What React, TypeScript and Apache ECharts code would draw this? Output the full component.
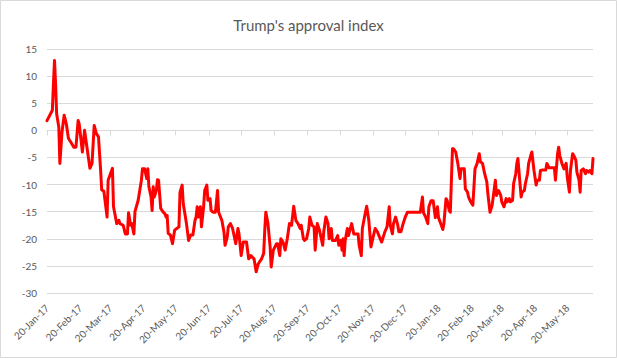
import React, { useEffect, useRef } from "react";
import * as echarts from "echarts";

// Days since 20-Jan-2017 for each poll reading
const pollDays = [
  0, 5, 6, 7, 8, 9, 11, 12, 14, 16, 18, 20, 22, 25, 27, 29, 30, 33, 35, 37,
  40, 42, 44, 46, 48, 50, 51, 53, 56, 57, 61, 62, 65, 67, 68, 71, 73, 75, 76, 78,
  79, 81, 82, 85, 88, 89, 91, 93, 94, 95, 97, 98, 99, 100, 102, 103, 104, 106, 108, 110,
  111, 112, 113, 115, 117, 119, 121, 123, 124, 126, 127, 130, 132, 134, 136, 138, 139, 140, 141, 143,
  144, 146, 147, 149, 150, 152, 153, 155, 157, 159, 160, 163, 165, 166, 168, 169, 171, 173, 176, 178,
  179, 181, 183, 186, 188, 190, 193, 195, 197, 200, 202, 203, 204, 206, 208, 209, 211, 214, 215, 217,
  218, 220, 222, 224, 226, 228, 230, 232, 234, 236, 237, 239, 240, 242, 244, 245, 247, 249, 250, 252,
  254, 257, 258, 260, 262, 263, 265, 266, 269, 271, 272, 274, 275, 276, 277, 278, 280, 281, 284, 286,
  288, 290, 291, 293, 294, 296, 298, 300, 302, 304, 306, 308, 310, 312, 315, 317, 319, 320, 322, 323,
  325, 327, 328, 330, 332, 334, 336, 340, 345, 348, 350, 351, 353, 355, 356, 358, 360, 362, 364, 365,
  367, 369, 370, 372, 373, 375, 376, 378, 379, 381, 383, 385, 386, 389, 390, 392, 393, 395, 397, 399,
  401, 403, 404, 406, 408, 410, 411, 413, 415, 416, 418, 419, 421, 423, 424, 426, 428, 429, 431, 432,
  434, 435, 437, 438, 439, 442, 443, 445, 446, 448, 449, 451, 452, 454, 456, 457, 459, 460, 462, 463,
  465, 466, 468, 470, 473, 474, 476, 477, 478, 480, 482, 484, 485, 487, 488, 490, 491, 493, 494, 496,
  497, 498, 500, 502, 503, 505, 506, 508, 509,
];

// Approval index readings
const approvalIndex = [
  1.8, 3.7, 8.6, 12.9, 8.6, 3, 0.6, -6.1, -0.3, 2.8, 1.2, -1.5, -2.1, -3.1, -3.1, 1.8, 1.2, -4, 0, -2.8,
  -7, -6.1, 0.9, -0.6, -1.2, -7.4, -11, -11.2, -16, -9.2, -7, -14.1, -17.2, -16.6, -17.2, -17.5, -19.1, -19.1, -15.2, -17.5,
  -17.2, -19.1, -15, -12.9, -9.2, -7.1, -7.1, -8.9, -7.1, -10.4, -12.3, -14.8, -10.4, -12.3, -11, -9.1, -9.2, -14.4, -15, -15.4,
  -16, -15.7, -19, -19.3, -20.9, -18.4, -18.1, -17.8, -11.4, -10.1, -13.5, -17.2, -20.3, -19.3, -19.3, -16.6, -16, -14.1, -16, -14.1,
  -17.8, -14.1, -11.1, -10.1, -12.9, -12.6, -14.8, -15.1, -15.1, -11.1, -15.1, -16.6, -18.8, -21.2, -19.7, -17.8, -17.2, -18.1, -20.9, -18.1,
  -19.1, -23.1, -20.6, -20.6, -23.7, -23.1, -23.7, -26.1, -24.6, -23.7, -22.7, -18.4, -15.1, -17.2, -21.5, -25.2, -22.1, -20.9, -20.9, -23.1,
  -20, -20.6, -22.1, -20, -17.2, -17.5, -14, -16.6, -17.2, -18.1, -17.5, -20, -20.3, -20, -18.1, -16, -17.5, -17.8, -22.1, -17.2,
  -18.4, -21.2, -18.7, -16, -17.2, -20, -18.1, -20.3, -20.3, -19.4, -21.2, -20.3, -22.1, -20, -23.1, -20.3, -18.1, -19.4, -17.2, -19.1,
  -19.1, -19.1, -21.2, -23.1, -18.1, -16, -14, -16.6, -21.5, -19.7, -18.1, -18.7, -19.7, -20.6, -18.7, -17.8, -14.1, -17.5, -19.1, -17.2,
  -16, -17.5, -18.7, -18.7, -17.2, -16, -15.1, -15.1, -15.1, -15.1, -12.3, -15.2, -16, -17.2, -14.1, -13, -13, -16.1, -14.1, -16.1,
  -17.2, -18.3, -17.2, -12.6, -12.9, -14.8, -15.1, -3.4, -3.4, -4, -6.1, -8.9, -7.1, -7.1, -10.8, -11.4, -12.3, -13.2, -13.8, -7.1,
  -6.1, -4.3, -5.8, -6.1, -8, -9.5, -11.7, -15.1, -13.8, -12.3, -9.2, -12, -11.1, -12, -13.2, -14.1, -12.6, -13.2, -12.6, -13.2,
  -12.9, -9.8, -8, -6.1, -5.2, -12.3, -11.4, -11.1, -9.8, -8, -6.1, -4.6, -4, -7.4, -10.1, -9.2, -9.2, -7.4, -7.3, -7.3,
  -7.3, -6.1, -6.9, -6.9, -6.9, -9.2, -4.3, -3.1, -4.6, -6.1, -7.1, -6.1, -8.6, -11.4, -7.4, -4.3, -4.6, -5.5, -7.7, -9.2,
  -11.4, -7.4, -7.1, -8, -7.4, -7.7, -7.4, -8, -5.2,
];

// Month ticks (the 20th of each month) as days since 20-Jan-2017
const tickDays = [0, 31, 59, 90, 120, 151, 181, 212, 243, 273, 304, 334, 365, 396, 424, 455, 485];
const tickLabels = [
  "20-Jan-17", "20-Feb-17", "20-Mar-17", "20-Apr-17", "20-May-17", "20-Jun-17",
  "20-Jul-17", "20-Aug-17", "20-Sep-17", "20-Oct-17", "20-Nov-17", "20-Dec-17",
  "20-Jan-18", "20-Feb-18", "20-Mar-18", "20-Apr-18", "20-May-18",
];

const yTicks = { min: -30, max: 15, step: 5 };
const chartTitle = "Trump's approval index";

export default function App() {
  const ref = useRef<HTMLDivElement>(null);

  useEffect(() => {
    if (!ref.current) return;
    const chart = echarts.init(ref.current, undefined, { renderer: "svg" });
    const font = "Lato, 'Liberation Sans', sans-serif";
    const labelFor = (v: number) => {
      const i = tickDays.indexOf(Math.round(v));
      return i >= 0 ? tickLabels[i] : "";
    };
    chart.setOption({
      animation: false,
      backgroundColor: "#ffffff",
      textStyle: { fontFamily: font },
      title: {
        text: chartTitle,
        left: "center",
        top: 12,
        textStyle: { fontFamily: font, fontSize: 15, fontWeight: "normal", color: "#595959" },
      },
      graphic: [
        {
          type: "rect",
          shape: { x: 0.5, y: 0.5, width: 616, height: 357 },
          style: { fill: "none", stroke: "#d9d9d9", lineWidth: 1 },
          silent: true,
        },
      ],
      grid: { left: 47, right: 24, top: 49, bottom: 65, containLabel: false },
      xAxis: [
        {
          type: "value",
          min: 0,
          max: pollDays[pollDays.length - 1],
          position: "bottom",
          axisLine: { show: false, onZero: false },
          axisTick: { show: false },
          splitLine: { show: false },
          axisLabel: {
            customValues: tickDays,
            formatter: labelFor,
            rotate: 45,
            fontSize: 10,
            color: "#595959",
            fontFamily: font,
            margin: 13,
          },
        },
        {
          type: "value",
          min: 0,
          max: pollDays[pollDays.length - 1],
          position: "bottom",
          axisLine: { show: true, onZero: true, lineStyle: { color: "#d9d9d9", width: 1 } },
          axisTick: {
            show: true,
            customValues: tickDays,
            length: 5,
            lineStyle: { color: "#d9d9d9", width: 1 },
          },
          axisLabel: { show: false },
          splitLine: { show: false },
        },
      ],
      yAxis: {
        type: "value",
        min: yTicks.min,
        max: yTicks.max,
        interval: yTicks.step,
        axisLine: { show: false },
        axisTick: { show: false },
        splitLine: { lineStyle: { color: "#d9d9d9", width: 1 } },
        axisLabel: { fontSize: 10, color: "#595959", fontFamily: font, margin: 10 },
      },
      series: [
        {
          type: "line",
          xAxisIndex: 0,
          data: pollDays.map((d, i) => [d, approvalIndex[i]]),
          showSymbol: false,
          symbol: "none",
          lineStyle: { color: "#ff0000", width: 3, join: "round", cap: "round" },
          itemStyle: { color: "#ff0000" },
        },
      ],
    });
    return () => chart.dispose();
  }, []);

  return (
    <div
      ref={ref}
      style={{ position: "absolute", left: 0, top: 0, width: 617, height: 358 }}
    />
  );
}
